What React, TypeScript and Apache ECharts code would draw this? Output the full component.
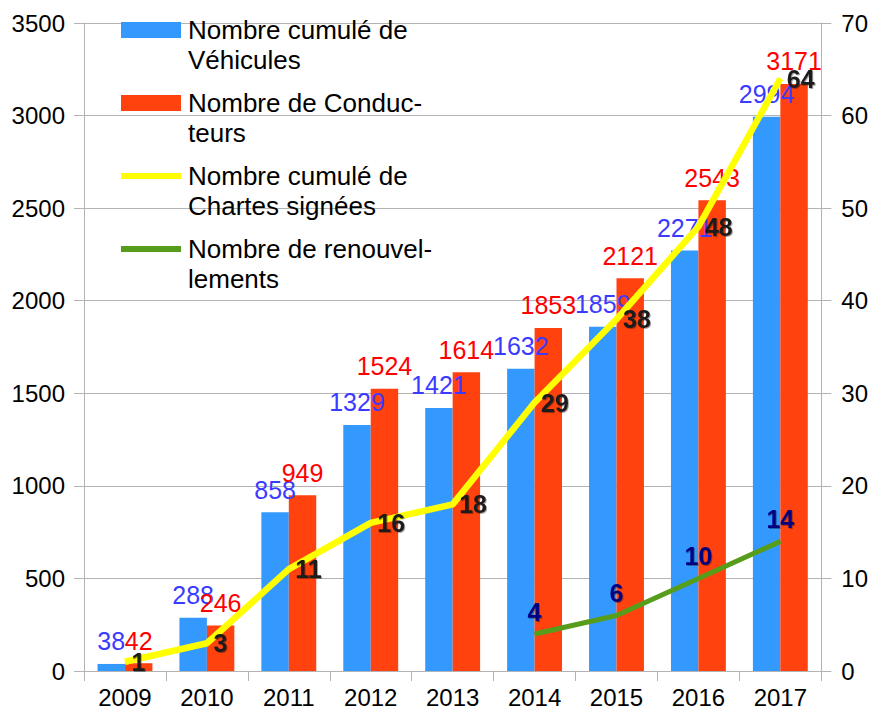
import React, { useEffect, useRef } from "react";
import * as echarts from "echarts";

const years = ["2009", "2010", "2011", "2012", "2013", "2014", "2015", "2016", "2017"];
const vehicules = [38, 288, 858, 1329, 1421, 1632, 1859, 2271, 2994];
const conducteurs = [42, 246, 949, 1524, 1614, 1853, 2121, 2543, 3171];
const chartes = [1, 3, 11, 16, 18, 29, 38, 48, 64];
const renouvellements = [null, null, null, null, null, 4, 6, 10, 14];

const seriesNames = [
  "Nombre cumulé de Véhicules",
  "Nombre de Conducteurs",
  "Nombre cumulé de Chartes signées",
  "Nombre de renouvellements",
];
const legendLabels = [
  "Nombre cumulé de\nVéhicules",
  "Nombre de Conduc-\nteurs",
  "Nombre cumulé de\nChartes signées",
  "Nombre de renouvel-\nlements",
];

const FONT = "'Liberation Sans', Arial, sans-serif";
const GRID = "#b3b3b3";
const LINE_ICON = "path://M0 0H60V6H0Z";

export default function App() {
  const ref = useRef<HTMLDivElement>(null);
  useEffect(() => {
    if (!ref.current) return;
    const chart = echarts.init(ref.current, null, { renderer: "svg" });
    const lineLabel = (color: string, position: string, distance: number) => ({
      show: true,
      position,
      distance,
      fontSize: 25,
      fontWeight: "bold",
      color,
      fontFamily: FONT,
      textShadowColor: "rgba(0,0,0,0.35)",
      textShadowOffsetX: 1,
      textShadowOffsetY: 1,
      textShadowBlur: 1,
    });
    chart.setOption({
      animation: false,
      textStyle: { fontFamily: FONT },
      grid: { left: 84, right: 49, top: 23, bottom: 47, containLabel: false },
      legend: {
        orient: "vertical",
        left: 121,
        top: -15,
        padding: 0,
        itemWidth: 60,
        itemHeight: 16,
        itemGap: -17,
        data: [
          { name: seriesNames[0], icon: "rect" },
          { name: seriesNames[1], icon: "rect" },
          { name: seriesNames[2], icon: LINE_ICON },
          { name: seriesNames[3], icon: LINE_ICON },
        ],
        formatter: (name: string) => "\n" + legendLabels[seriesNames.indexOf(name)],
        textStyle: {
          fontSize: 26,
          color: "#000",
          fontFamily: FONT,
          lineHeight: 30,
          padding: [0, 0, 0, 2],
        },
      },
      xAxis: {
        type: "category",
        data: years,
        axisLine: { lineStyle: { color: GRID, width: 1 } },
        axisTick: { show: true, length: 10, inside: false, lineStyle: { color: GRID } },
        axisLabel: { fontSize: 24, color: "#000", margin: 14, fontFamily: FONT },
      },
      yAxis: [
        {
          type: "value",
          min: 0,
          max: 3500,
          interval: 500,
          axisLine: { show: true, lineStyle: { color: GRID } },
          axisTick: { show: true, length: 10, lineStyle: { color: GRID } },
          splitLine: { lineStyle: { color: GRID } },
          axisLabel: { fontSize: 24, color: "#000", margin: 19, fontFamily: FONT, formatter: (v: number) => String(v) },
        },
        {
          type: "value",
          min: 0,
          max: 70,
          interval: 10,
          position: "right",
          axisLine: { show: true, lineStyle: { color: GRID } },
          axisTick: { show: true, length: 10, lineStyle: { color: GRID } },
          splitLine: { show: false },
          axisLabel: { fontSize: 24, color: "#000", margin: 20, fontFamily: FONT, formatter: (v: number) => String(v) },
        },
      ],
      series: [
        {
          name: seriesNames[0],
          type: "bar",
          data: vehicules,
          barGap: "0%",
          barCategoryGap: "33%",
          itemStyle: { color: "#3399ff" },
          label: { show: true, position: "top", distance: 10, fontSize: 25, color: "#3b3bff", fontFamily: FONT },
        },
        {
          name: seriesNames[1],
          type: "bar",
          data: conducteurs,
          barGap: "0%",
          barCategoryGap: "33%",
          itemStyle: { color: "#ff420e" },
          label: { show: true, position: "top", distance: 10, fontSize: 25, color: "#ff0000", fontFamily: FONT },
        },
        {
          name: seriesNames[2],
          type: "line",
          yAxisIndex: 1,
          data: chartes,
          showSymbol: true,
          symbol: "circle",
          symbolSize: 1,
          lineStyle: { color: "#ffff00", width: 6.5 },
          itemStyle: { color: "#ffff00" },
          z: 3,
          label: lineLabel("#1a1a1a", "right", 6),
        },
        {
          name: seriesNames[3],
          type: "line",
          yAxisIndex: 1,
          data: renouvellements,
          showSymbol: true,
          symbol: "circle",
          symbolSize: 1,
          lineStyle: { color: "#579d1c", width: 5 },
          itemStyle: { color: "#579d1c" },
          z: 3,
          label: lineLabel("#000080", "top", 9),
        },
      ],
    });
    return () => chart.dispose();
  }, []);
  return <div ref={ref} style={{ width: 871, height: 718, position: "absolute", left: 0, top: 0 }} />;
}
